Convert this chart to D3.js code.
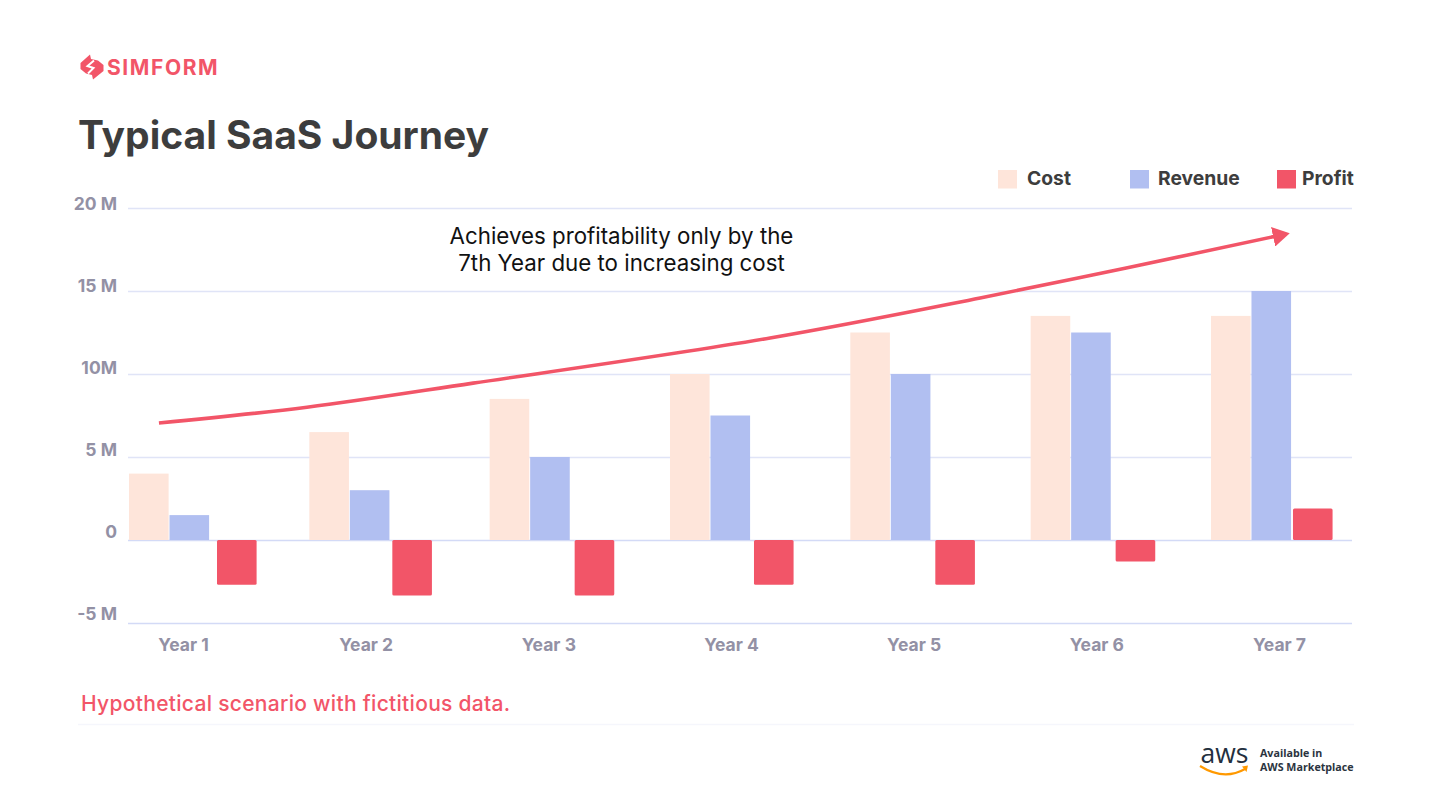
<!DOCTYPE html>
<html>
<head>
<meta charset="utf-8">
<title>Typical SaaS Journey</title>
<script src="https://cdn.jsdelivr.net/npm/d3@7"></script>
<style>
  html, body { margin: 0; padding: 0; background: #fff; }
  svg { display: block; }
  text { font-family: Inter, "Open Sans", sans-serif; }
</style>
</head>
<body>
<svg id="chart" width="1434" height="807"></svg>
<script>
// chart values, in millions
const years = ["Year 1", "Year 2", "Year 3", "Year 4", "Year 5", "Year 6", "Year 7"];
const cost = [4, 6.5, 8.5, 10, 12.5, 13.5, 13.5];
const revenue = [1.5, 3, 5, 7.5, 10, 12.5, 15];
const profit = [-2.7, -3.35, -3.35, -2.7, -2.7, -1.3, 1.9];

const tickValues = [-5, 0, 5, 10, 15, 20];
const tickLabels = ["-5 M", "0", "5 M", "10M", "15 M", "20 M"];

// the annotation arrow: position along the years, value in millions
const trendYear = [1.166, 1.987, 2.908, 4.555, 5.72, 6.53, 7.35];
const trendValue = [7.05, 8.0, 9.45, 12.17, 14.58, 16.39, 18.28];

const seriesNames = ["Cost", "Revenue", "Profit"];
const seriesColors = ["#fee5da", "#b1bff1", "#f25568"];
const seriesOffsets = [0, 40.5, 85];
// the red bars are not evenly spaced in the original
const profitShift = [3, -2, 0, -1, 0, 0, -3];

const svg = d3.select("#chart");

const y = d3.scaleLinear().domain([-5, 20]).range([623, 208]);
// labels sit on a slightly tighter spacing than the grid lines
const yLabel = d3.scaleLinear().domain([-5, 20]).range([614, 204]);
const x = d3.scaleBand().domain(years).range([129, 1391.3]);
const xLabel = d3.scalePoint().domain(years).range([183, 1279]);
const xTrend = d3.scaleLinear().domain([1, 8]).range([129, 1391.3]);
const color = d3.scaleOrdinal().domain(seriesNames).range(seriesColors);
const offset = d3.scaleOrdinal().domain(seriesNames).range(seriesOffsets);
const barWidth = 39.6;

// grid lines come from the axis ticks
const grid = svg.append("g")
  .attr("transform", "translate(128,0)")
  .call(d3.axisLeft(y).tickValues(tickValues).tickSize(-1224).tickFormat(""));
grid.select(".domain").remove();
grid.selectAll(".tick line")
  .attr("stroke", d => d <= 0 ? "#d3daf6" : "#e0e4f7")
  .attr("stroke-width", 1.5);

const yAxis = svg.append("g")
  .attr("transform", "translate(117,0)")
  .call(d3.axisLeft(yLabel).tickValues(tickValues).tickSize(0).tickPadding(0)
    .tickFormat((d, i) => tickLabels[i]));
yAxis.select(".domain").remove();
yAxis.selectAll(".tick text")
  .attr("fill", "#9391a5")
  .attr("font-size", 17.5)
  .attr("font-weight", 700);

const xAxis = svg.append("g")
  .attr("transform", "translate(0,623)")
  .call(d3.axisBottom(xLabel).tickSize(0).tickPadding(16));
xAxis.select(".domain").remove();
xAxis.selectAll(".tick text")
  .attr("fill", "#9391a5")
  .attr("font-size", 17.5)
  .attr("font-weight", 700);

// bars
const seriesValues = [cost, revenue, profit];
seriesNames.forEach((name, s) => {
  svg.append("g").selectAll("rect")
    .data(seriesValues[s])
    .join("rect")
    .attr("x", (d, i) => x(years[i]) + offset(name) + (name === "Profit" ? profitShift[i] : 0))
    .attr("y", d => y(Math.max(d, 0)))
    .attr("width", barWidth)
    .attr("height", d => Math.abs(y(d) - y(0)))
    .attr("rx", name === "Profit" ? 1.5 : 0)
    .attr("fill", color(name));
});

// arrow
svg.append("defs").append("marker")
  .attr("id", "arrowhead")
  .attr("viewBox", "0 0 17 20")
  .attr("refX", 1)
  .attr("refY", 10)
  .attr("markerWidth", 17)
  .attr("markerHeight", 20)
  .attr("markerUnits", "userSpaceOnUse")
  .attr("orient", "auto")
  .append("path")
  .attr("d", "M0,0L17,10L0,20Z")
  .attr("fill", "#f25568");

const trendLine = d3.line()
  .x((d, i) => xTrend(trendYear[i]))
  .y(d => y(d))
  .curve(d3.curveCatmullRom);

svg.append("path")
  .attr("d", trendLine(trendValue))
  .attr("fill", "none")
  .attr("stroke", "#f25568")
  .attr("stroke-width", 3.6)
  .attr("marker-end", "url(#arrowhead)");

svg.append("text")
  .attr("x", 621.5)
  .attr("y", 244)
  .attr("text-anchor", "middle")
  .attr("font-size", 22.3)
  .attr("fill", "#111")
  .text("Achieves profitability only by the");
svg.append("text")
  .attr("x", 621.5)
  .attr("y", 271)
  .attr("text-anchor", "middle")
  .attr("font-size", 22.3)
  .attr("fill", "#111")
  .text("7th Year due to increasing cost");

// legend
const legendSwatch = [998, 1130, 1277];
const legendText = [1027, 1158, 1302];
seriesNames.forEach((name, i) => {
  svg.append("rect")
    .attr("x", legendSwatch[i])
    .attr("y", 170)
    .attr("width", 19)
    .attr("height", 18.5)
    .attr("fill", color(name));
  svg.append("text")
    .attr("x", legendText[i])
    .attr("y", 185)
    .attr("font-size", 19.3)
    .attr("font-weight", 700)
    .attr("fill", "#3d3d3d")
    .text(name);
});

// title block
svg.append("text")
  .attr("x", 78)
  .attr("y", 149)
  .attr("font-size", 39)
  .attr("font-weight", 700)
  .attr("fill", "#3d3d3d")
  .text("Typical SaaS Journey");

// logo: a red lozenge with a white zigzag through it
const logo = svg.append("g");
logo.append("path")
  .attr("d", "M80.5,63L90,54.5L91,59L98,60.5L103.5,65L103.5,71L93,79.5L92,75L86,73.5L80.5,69Z")
  .attr("fill", "#f25568");
logo.append("path")
  .attr("d", "M94,60.5L87.5,66L93.5,68L88,73.5")
  .attr("fill", "none")
  .attr("stroke", "#fff")
  .attr("stroke-width", 2);
svg.append("text")
  .attr("x", 107)
  .attr("y", 75)
  .attr("font-size", 21)
  .attr("font-weight", 700)
  .attr("letter-spacing", 1.6)
  .attr("fill", "#f25568")
  .text("SIMFORM");

// footnote and footer
svg.append("text")
  .attr("x", 81)
  .attr("y", 711)
  .attr("font-size", 21)
  .attr("font-weight", 500)
  .attr("letter-spacing", 0.3)
  .attr("fill", "#f25568")
  .text("Hypothetical scenario with fictitious data.");

svg.append("line")
  .attr("x1", 78).attr("x2", 1354)
  .attr("y1", 724.5).attr("y2", 724.5)
  .attr("stroke", "#f5f6fc")
  .attr("stroke-width", 1.5);

svg.append("text")
  .attr("x", 1200.5)
  .attr("y", 763)
  .attr("font-size", 26.5)
  .attr("fill", "#232f3e")
  .style("font-family", "'Open Sans', sans-serif")
  .text("aws");
svg.append("path")
  .attr("d", "M1200,766Q1224,781 1245,769")
  .attr("fill", "none")
  .attr("stroke", "#ff9900")
  .attr("stroke-width", 2.2);
svg.append("path")
  .attr("d", "M1242,766.5L1248,765.5L1246.5,772Z")
  .attr("fill", "#ff9900");

svg.append("text")
  .attr("x", 1260)
  .attr("y", 757)
  .attr("font-size", 10.7)
  .attr("font-weight", 700)
  .attr("fill", "#2b3440")
  .style("font-family", "'Open Sans', sans-serif")
  .text("Available in");
svg.append("text")
  .attr("x", 1260)
  .attr("y", 771)
  .attr("font-size", 10.7)
  .attr("font-weight", 700)
  .attr("fill", "#2b3440")
  .style("font-family", "'Open Sans', sans-serif")
  .text("AWS Marketplace");
</script>
</body>
</html>
